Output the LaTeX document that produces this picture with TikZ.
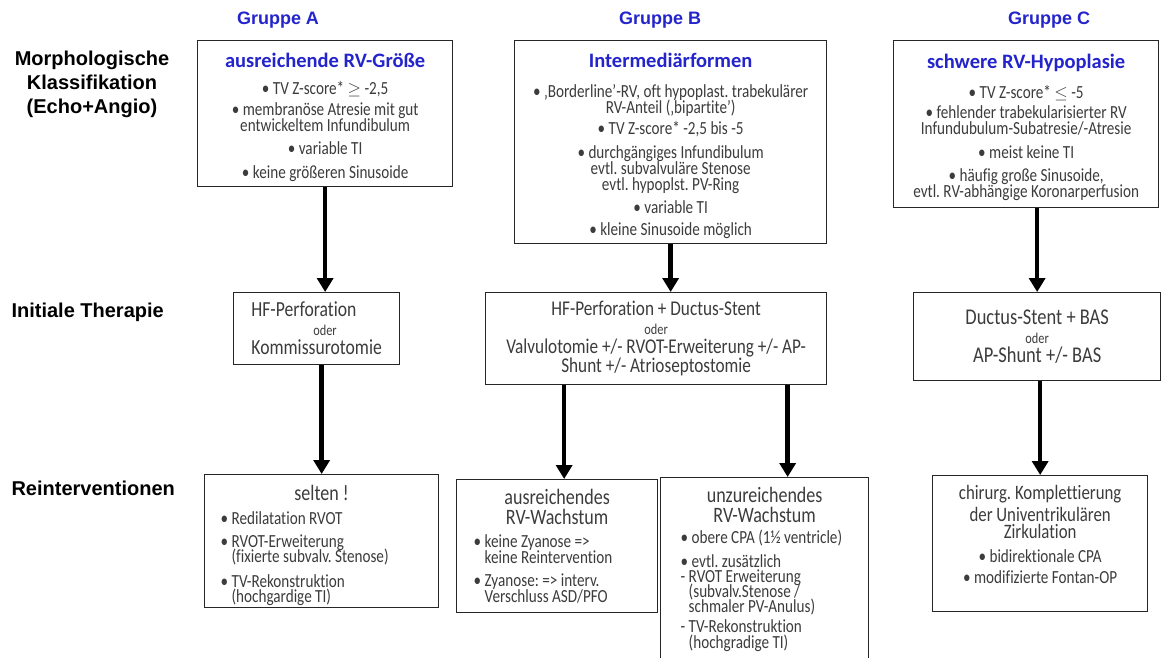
\documentclass[tikz,border=0pt]{standalone}
\usepackage{fontspec}
\setmainfont[FakeStretch=0.82,Ligatures={TeX,NoCommon}]{Carlito}
\newfontfamily\titelfont[Ligatures={TeX,NoCommon}]{Carlito}
\newfontfamily\arialfont{Liberation Sans}
\usetikzlibrary{arrows.meta,positioning}
\definecolor{titelblau}{RGB}{36,36,204}
\definecolor{textgrau}{RGB}{60,60,60}
\newcommand{\koerper}{\fontsize{18.5}{16}\selectfont\lineskiplimit=-50pt\frenchspacing\relax}
\newcommand{\therfont}[1]{\fontsize{#1}{19}\selectfont\lineskiplimit=-50pt\frenchspacing\relax}
\newcommand{\gross}{\fontsize{22}{22}\selectfont}
\newcommand{\klein}{\fontsize{15}{15}\selectfont}
\newcommand{\titel}[1]{{\rule{0pt}{21.5pt}\titelfont\bfseries\fontsize{20.5}{20.5}\selectfont\color{titelblau}#1}}
\newcommand{\pkt}{\textbullet\ }
\newcommand{\einr}{\phantom{\textbullet\ }}
\newcommand{\strich}{\phantom{- }}
\newcommand{\mitte}[1]{\hspace*{\fill}{\gross #1}\hspace*{\fill}\mbox{}}

\begin{document}
\begin{tikzpicture}[x=1pt,y=-1pt,
  kasten/.style={draw=black!85,line width=1.3pt,fill=white,anchor=north west,
    inner sep=2pt,text=textgrau,align=flush center,font=\koerper},
  pfeil/.style={line width=4.5pt,-{Triangle[length=14pt,width=16pt]}},
  gruppe/.style={font=\arialfont\bfseries\fontsize{18}{20}\selectfont,text=titelblau},
  zeile/.style={font=\arialfont\bfseries\fontsize{20}{24}\selectfont,align=center}]
\useasboundingbox (0,0) rectangle (1167,657);
\clip (0,0) rectangle (1167,657);

% Spaltenkoepfe und Zeilen
\node[gruppe] (kopfA) at (278,20) {Gruppe A};
\node[gruppe] (kopfB) at (660,20) {Gruppe B};
\node[gruppe] (kopfC) at (1049,20) {Gruppe C};
\node[zeile] (morph) at (92,84) {Morphologische\\Klassifikation\\(Echo+Angio)};
\node[zeile,anchor=west] (initial) at (8,312) {Initiale Therapie};
\node[zeile,anchor=west] (reint) at (8,488) {Reinterventionen};

% morphologische Klassifikation
\node[kasten,minimum width=255,minimum height=146] (klassA) at (197,40)
  {\titel{ausreichende RV-Größe}\\[11pt]
   \pkt TV Z-score* $\geq$ -2,5\\[5pt]
   \pkt membranöse Atresie mit gut\\ entwickeltem Infundibulum\\[7pt]
   \pkt variable TI\\[8pt]
   \pkt keine größeren Sinusoide};
\node[kasten,minimum width=312,minimum height=203] (klassB) at (514,40)
  {\titel{Intermediärformen}\\[14pt]
   \pkt ‚Borderline’-RV, oft hypoplast. trabekulärer\\ RV-Anteil (‚bipartite’)\\[5pt]
   \pkt TV Z-score* -2,5 bis -5\\[8pt]
   \pkt durchgängiges Infundibulum\\ evtl. subvalvuläre Stenose\\ evtl. hypoplst. PV-Ring\\[7pt]
   \pkt variable TI\\[6pt]
   \pkt kleine Sinusoide möglich};
\node[kasten,minimum width=265,minimum height=167] (klassC) at (893,40)
  {\titel{schwere RV-Hypoplasie}\\[14pt]
   \pkt TV Z-score* $\leq$ -5\\[4pt]
   \pkt fehlender trabekularisierter RV\\ Infundubulum-Subatresie/-Atresie\\[8pt]
   \pkt meist keine TI\\[7pt]
   \pkt häufig große Sinusoide,\\ evtl. RV-abhängige Koronarperfusion};

% initiale Therapie
\node[kasten,minimum width=166,minimum height=72,align=flush left,font=\therfont{21.5}] (therA) at (233,292)
  {HF-Perforation\\ \hspace*{62pt}{\klein oder}\\ Kommissurotomie};
\node[kasten,minimum width=341,minimum height=92,font=\therfont{21}] (therB) at (485,292)
  {HF-Perforation + Ductus-Stent\\ {\klein oder}\\
   Valvulotomie +/- RVOT-Erweiterung +/- AP-\\ Shunt +/- Atrioseptostomie};
\node[kasten,minimum width=247,minimum height=88,font=\therfont{22.5}] (therC) at (913,292)
  {Ductus-Stent + BAS\\ {\klein oder}\\ AP-Shunt +/- BAS};

% Reinterventionen
\node[kasten,minimum width=234,minimum height=126,text width=202,align=flush left] (reA) at (204,474)
  {\rule{0pt}{24pt}\mitte{selten !}\\[8pt]
   \pkt Redilatation RVOT\\[7pt]
   \pkt RVOT-Erweiterung\\[-1pt] \einr(fixierte subvalv. Stenose)\\[9pt]
   \pkt TV-Rekonstruktion\\[-1pt] \einr(hochgardige TI)};
\node[kasten,minimum width=201,minimum height=133,text width=167,align=flush left] (reBa) at (456,479)
  {\mitte{ausreichendes}\\[4pt]
   \mitte{RV-Wachstum}\\[7pt]
   \pkt keine Zyanose =>\\ \einr keine Reintervention\\[7pt]
   \pkt Zyanose: => interv.\\ \einr Verschluss ASD/PFO};
\node[kasten,minimum width=208,minimum height=183,text width=168,align=flush left] (reBb) at (660,477)
  {\mitte{unzureichendes}\\[4pt]
   \mitte{RV-Wachstum}\\[5pt]
   \pkt obere CPA (1½ ventricle)\\[8pt]
   \pkt evtl. zusätzlich\\[-1pt]
   - RVOT Erweiterung\\[-1pt] \strich(subvalv.Stenose /\\[-1pt] \strich schmaler PV-Anulus)\\[4pt]
   - TV-Rekonstruktion\\ \strich(hochgradige TI)};
\node[kasten,minimum width=215,minimum height=136] (reC) at (932,475)
  {{\fontsize{20.5}{20}\selectfont chirurg. Komplettierung}\\[6pt]
   {\fontsize{20.5}{20}\selectfont der Univentrikulären}\\[1pt]
   {\fontsize{20.5}{20}\selectfont Zirkulation}\\[8pt]
   \pkt bidirektionale CPA\\[5pt]
   \pkt modifizierte Fontan-OP\\[3pt]\mbox{}};

% Pfeile
\draw[pfeil] (klassA.south) -- (klassA.south |- therA.north);
\draw[pfeil] (reA.north |- therA.south) -- (reA.north);
\draw[pfeil] (klassB.south) -- (klassB.south |- therB.north);
\draw[pfeil] ([xshift=7pt]reBa.north |- therB.south) -- ([xshift=7pt]reBa.north);
\draw[pfeil] ([xshift=23pt]reBb.north |- therB.south) -- ([xshift=23pt]reBb.north);
\draw[pfeil] (therC.north |- klassC.south) -- (therC.north);
\draw[pfeil] (reC.north |- therC.south) -- (reC.north);
\end{tikzpicture}
\end{document}
